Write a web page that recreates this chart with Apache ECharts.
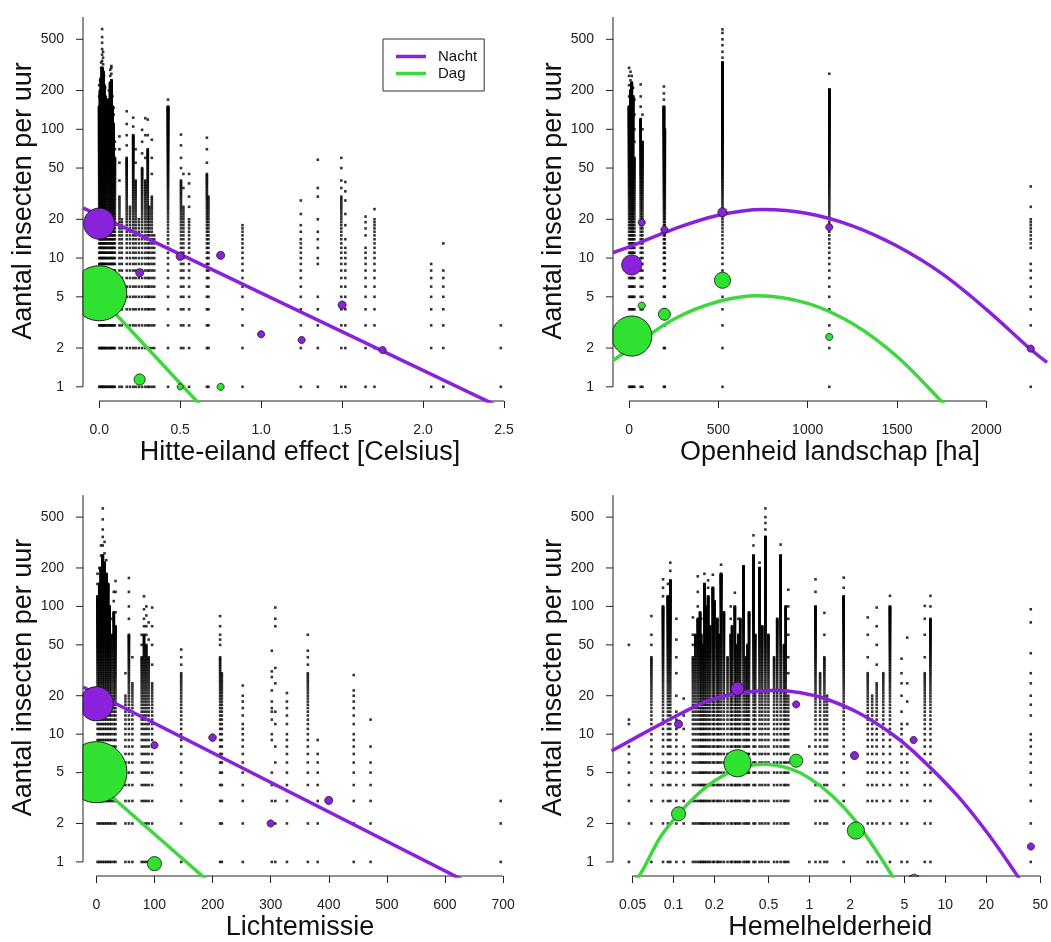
<!DOCTYPE html>
<html>
<head>
<meta charset="utf-8">
<script src="https://cdn.jsdelivr.net/npm/echarts@6/dist/echarts.min.js"></script>
<style>
  html, body { margin: 0; padding: 0; background: #fff; }
  #chart { width: 1051px; height: 942px; }
</style>
</head>
<body>
<div id="chart"></div>
<script>
// ---------- shared ticks ----------
const countTicks = [1, 2, 5, 10, 20, 50, 100, 200, 500];
const heatTicks = [0, 0.5, 1, 1.5, 2, 2.5];
const openTicks = [0, 500, 1000, 1500, 2000];
const lightTicks = [0, 100, 200, 300, 400, 500, 600, 700];
const skyTicks = [0.05, 0.1, 0.2, 0.5, 1, 2, 5, 10, 20, 50];

// ---------- Hitte-eiland effect ----------
// observation columns: every count 1..dense observed, plus scattered higher counts
const heatColX = [0, 0.006, 0.012, 0.018, 0.024, 0.03, 0.037, 0.044, 0.052, 0.06, 0.068, 0.075, 0.082, 0.089, 0.097,
  0.125, 0.14, 0.17, 0.19, 0.21, 0.225, 0.245, 0.265, 0.285, 0.3, 0.31, 0.325, 0.34, 0.425, 0.505, 0.52, 0.555, 0.665, 0.675, 0.885,
  1.245, 1.35, 1.495, 1.52, 1.645, 1.7, 2.05, 2.125, 2.48];
const heatColDense = [150, 200, 250, 300, 280, 220, 180, 160, 140, 170, 230, 240, 150, 110, 60,
  30, 20, 60, 25, 90, 40, 20, 50, 40, 70, 25, 30, 15, 150, 40, 25, 20, 45, 30, 18,
  14, 5, 30, 12, 12, 20, 9, 8, 3];
const heatColExtra = [[180, 220], [240], [300, 330], [340, 380, 420, 470, 520, 600], [320, 360, 400], [260], [210], [], [170], [200], [260, 290], [270, 300, 310], [180], [130, 147], [70, 80],
  [40, 55, 70, 88], [], [75, 90, 110, 138], [], [105, 123], [55, 70], [], [65, 80, 99], [60, 90, 122], [90, 119], [], [45, 60, 83], [], [170], [50, 60, 75, 91], [35, 45], [25, 30, 38, 45], [55, 70, 86], [], [],
  [16, 18, 22, 28], [9, 10, 12, 14, 16, 20, 30, 35, 58], [35, 40, 50, 60], [14, 18, 22, 28, 33, 39], [15, 17, 19, 21], [24], [], [13], []];
const heatNightX = [0, 0.25, 0.5, 0.75, 1.0, 1.25, 1.5, 1.75];
const heatNightY = [18.5, 7.7, 10.3, 10.5, 2.56, 2.31, 4.32, 1.93];
const heatNightN = [19.6, 1.3, 1.3, 1.3, 1, 1, 1.3, 1];
const heatDayX = [0, 0.25, 0.5, 0.75];
const heatDayY = [5.33, 1.14, 1.0, 1.0];
const heatDayN = [61.7, 2.5, 0.73, 1];
const heatNightFitX = [-0.1, 2.6];
const heatNightFitY = [24.5, 0.585];
const heatDayFitX = [-0.1, 0.7];
const heatDayFitY = [6.9, 0.57];

// ---------- Openheid landschap ----------
const openColX = [0, 8, 15, 22, 30, 65, 75, 195, 200, 523, 1121, 2249];
const openColDense = [150, 200, 230, 180, 60, 120, 80, 150, 100, 330, 204, 9];
const openColExtra = [[180, 220, 260, 300], [240, 280], [260], [210], [80, 100, 130, 170], [150, 180, 223], [100, 130], [170, 190, 215], [],
  [360, 400, 450, 500, 560, 597], [270], [12, 13, 14, 15, 16, 17, 18, 19, 20, 25, 36]];
const openNightX = [15, 71, 198, 523, 1121, 2249];
const openNightY = [8.85, 18.9, 16.6, 22.7, 17.4, 1.98];
const openNightN = [8.2, 1, 1, 1.65, 1, 1];
const openDayX = [15, 71, 198, 523, 1121];
const openDayY = [2.48, 4.27, 3.66, 6.72, 2.44];
const openDayN = [32.7, 1, 2.9, 5.2, 1];
const openNightFitX = [-90, 0, 250, 500, 750, 1000, 1250, 1500, 1750, 2000, 2250, 2340];
const openNightFitY = [11.0, 12.2, 16.8, 21.5, 23.8, 22.2, 17.8, 12.4, 7.6, 4.0, 1.95, 1.55];
const openDayFitX = [-90, 0, 250, 500, 725, 1000, 1250, 1500, 1750, 1850];
const openDayFitY = [1.6, 1.95, 3.35, 4.6, 5.1, 4.45, 3.1, 1.72, 0.77, 0.55];

// ---------- Lichtemissie ----------
const lightColX = [2, 5, 8, 11, 14, 17, 20, 23, 26, 30, 33, 50, 56, 62, 78, 82, 86, 90, 96,
  146, 213, 216, 252, 302, 308, 328, 364, 381, 443, 472, 696];
const lightColDense = [120, 150, 200, 250, 220, 180, 150, 100, 60, 90, 70, 20, 60, 25, 40, 60, 50, 40, 25,
  30, 40, 30, 12, 5, 4, 10, 30, 7, 10, 6, 3];
const lightColExtra = [[150, 180], [200], [250, 300], [300, 350, 400, 480, 585], [260, 320], [230], [], [], [80], [110, 130], [90, 130, 158], [30], [80, 100, 130, 167], [40],
  [50, 60], [70, 80, 95, 120], [60, 70, 85, 100], [55, 75], [35, 50, 70, 98],
  [35, 40, 46], [50, 55, 60, 70, 84], [], [14, 16, 18, 20, 24], [9, 10, 13, 15, 16, 18, 22, 28, 31, 45], [6, 8, 12, 15, 25, 33, 70, 80, 98],
  [12, 14, 16, 18, 21], [35, 40, 45, 60], [9], [12, 14, 16, 18, 20, 22, 29], [8, 13], []];
const lightNightX = [0, 100, 200, 300, 400];
const lightNightY = [17.3, 8.2, 9.4, 2.0, 3.03];
const lightNightN = [23.6, 1, 1.15, 1, 1.3];
const lightDayX = [0, 100];
const lightDayY = [5.04, 0.97];
const lightDayN = [75.9, 4];
const lightNightFitX = [-23, 724];
const lightNightFitY = [23.4, 0.44];
const lightDayFitX = [-23, 200];
const lightDayFitY = [5.1, 0.66];

// ---------- Hemelhelderheid ----------
const skyColX = [0.047, 0.0688, 0.0838, 0.091, 0.0948, 0.105, 0.119, 0.139, 0.145, 0.151, 0.157, 0.16, 0.165, 0.169, 0.174, 0.18, 0.186, 0.195,
  0.2, 0.21, 0.215, 0.224, 0.235, 0.25, 0.264, 0.27, 0.283, 0.29, 0.3, 0.31, 0.328, 0.34, 0.35, 0.36, 0.388, 0.4, 0.43, 0.45, 0.475,
  0.5, 0.55, 0.58, 0.615, 0.65, 0.67, 0.7, 1.0, 1.11, 1.2, 1.29, 1.35,
  1.79, 2.69, 2.9, 3.13, 3.5, 3.92, 4.77, 5.25, 7.07, 7.78, 42.6];
const skyColDense = [8, 40, 100, 120, 160, 15, 8, 40, 60, 80, 90, 60, 50, 150, 100, 120, 70, 140,
  110, 80, 60, 180, 90, 40, 60, 70, 100, 50, 60, 80, 206, 40, 50, 90, 250, 60, 200, 70, 350,
  60, 40, 80, 250, 50, 100, 20, 1, 100, 30, 40, 20,
  120, 30, 20, 25, 30, 100, 12, 8, 30, 80, 10];
const skyColExtra = [[12, 13, 50], [50, 60, 84], [120, 140, 163], [150], [190, 220], [20, 30, 40, 55, 80], [11, 14, 19], [50, 60, 82], [], [100, 130, 172], [], [80], [], [180], [], [140, 160], [], [177],
  [], [], [], [212], [], [], [80, 100], [], [128], [], [80], [], [], [], [], [], [300, 360], [], [220], [], [400, 450, 500, 585],
  [], [], [], [305], [], [], [30, 40, 60, 80, 100, 135], [8], [130, 163], [], [60, 89], [],
  [140, 168], [40, 60, 82], [], [35, 50, 70, 98], [], [121], [15, 20, 25, 30, 39], [12, 18, 25, 57], [40, 60, 80, 101], [100, 121], [14, 17, 20, 25, 30, 43, 75, 95]];
const skyNightX = [0.109, 0.296, 0.80, 2.15, 5.85, 42.7];
const skyNightY = [12.0, 22.7, 17.1, 6.8, 9.0, 1.32];
const skyNightN = [1.3, 3.45, 1, 1.3, 1, 1];
const skyDayX = [0.109, 0.296, 0.80, 2.2, 5.9];
const skyDayY = [2.38, 5.92, 6.2, 1.76, 0.733];
const skyDayN = [4, 14.9, 3.45, 5.9, 2];
const skyNightFitX = [0.035, 0.077, 0.109, 0.179, 0.296, 0.581, 0.9, 1.28, 2.24, 3.92, 5.85, 12.1, 21.1, 33.1, 40];
const skyNightFitY = [7.39, 11.7, 14.2, 18.2, 20.9, 22.1, 20.9, 19.1, 14.9, 10.3, 7.3, 3.36, 1.61, 0.81, 0.6];
const skyDayFitX = [0.05, 0.0566, 0.08, 0.11, 0.15, 0.2, 0.3, 0.465, 0.7, 1.0, 1.5, 2.2, 3.0, 4.04, 4.4];
const skyDayFitY = [0.70, 0.79, 1.56, 2.4, 3.37, 4.3, 5.37, 5.82, 5.42, 4.53, 3.24, 2.08, 1.29, 0.79, 0.67];

// ---------- styling ----------
const NIGHT = '#8a22dc';
const DAY = '#2fe22f';
const DAY_LINE = '#3fd63f';
const INK = '#222';
const FONT = '"Liberation Sans", Arial, Helvetica, sans-serif';
const Y_RANGE = [0.776, 745];

const panels = [
  { grid: { left: 83, top: 17, width: 434, height: 384 }, xType: 'value', xRange: [-0.1, 2.58],
    xTicks: heatTicks, fmt: v => v.toFixed(1), xName: 'Hitte-eiland effect [Celsius]',
    cols: [heatColX, heatColDense, heatColExtra],
    night: [heatNightX, heatNightY, heatNightN], day: [heatDayX, heatDayY, heatDayN],
    nightFit: [heatNightFitX, heatNightFitY], dayFit: [heatDayFitX, heatDayFitY], smooth: false },
  { grid: { left: 613, top: 17, width: 434, height: 384 }, xType: 'value', xRange: [-90, 2340],
    xTicks: openTicks, fmt: v => String(v), xName: 'Openheid landschap [ha]',
    cols: [openColX, openColDense, openColExtra],
    night: [openNightX, openNightY, openNightN], day: [openDayX, openDayY, openDayN],
    nightFit: [openNightFitX, openNightFitY], dayFit: [openDayFitX, openDayFitY], smooth: 0.35 },
  { grid: { left: 83, top: 495, width: 434, height: 383 }, xType: 'value', xRange: [-23, 724],
    xTicks: lightTicks, fmt: v => String(v), xName: 'Lichtemissie',
    cols: [lightColX, lightColDense, lightColExtra],
    night: [lightNightX, lightNightY, lightNightN], day: [lightDayX, lightDayY, lightDayN],
    nightFit: [lightNightFitX, lightNightFitY], dayFit: [lightDayFitX, lightDayFitY], smooth: false },
  { grid: { left: 613, top: 495, width: 437, height: 383 }, xType: 'log', xRange: [0.0359, 56.5],
    xTicks: skyTicks, fmt: v => String(v), xName: 'Hemelhelderheid',
    cols: [skyColX, skyColDense, skyColExtra],
    night: [skyNightX, skyNightY, skyNightN], day: [skyDayX, skyDayY, skyDayN],
    nightFit: [skyNightFitX, skyNightFitY], dayFit: [skyDayFitX, skyDayFitY], smooth: 0.35 }
];

function columnPoints(xs, dense, extra) {
  const pts = [];
  xs.forEach((x, i) => {
    for (let v = 1; v <= dense[i]; v++) pts.push([x, v]);
    extra[i].forEach(v => pts.push([x, v]));
  });
  return pts;
}
const zip = (xs, ys) => xs.map((x, i) => [x, ys[i]]);
const triples = (xs, ys, ns) => xs.map((x, i) => [x, ys[i], ns[i]]);

// group means as circles, area proportional to the number of observations.
// The outline is traced as a polygon and cut off at the edges of the plotting region.
function meanCircles(i, name, data, fill) {
  return {
    name: name, type: 'custom', xAxisIndex: i, yAxisIndex: i, z: 4,
    encode: { x: 0, y: 1 },
    data: data,
    renderItem: (params, api) => {
      const cs = params.coordSys;
      const c = api.coord([api.value(0), api.value(1)]);
      const r = 3.5 * Math.sqrt(api.value(2));
      const x0 = cs.x, x1 = cs.x + cs.width, y0 = cs.y, y1 = cs.y + cs.height;
      const pts = [];
      for (let k = 0; k < 96; k++) {
        const a = (k / 96) * Math.PI * 2;
        pts.push([
          Math.min(x1, Math.max(x0, c[0] + r * Math.cos(a))),
          Math.min(y1, Math.max(y0, c[1] + r * Math.sin(a)))
        ]);
      }
      return {
        type: 'polygon', shape: { points: pts },
        style: { fill: fill, stroke: '#1a1a1a', lineWidth: 1 }
      };
    }
  };
}
// count-axis ticks, pointing outwards from the left edge
function countAxisTicks(i, xLeft) {
  return {
    type: 'custom', xAxisIndex: i, yAxisIndex: i, clip: false, silent: true, z: 1,
    encode: { x: 0, y: 1 },
    data: countTicks.map(v => [xLeft, v]),
    renderItem: (params, api) => {
      const p = api.coord([api.value(0), api.value(1)]);
      return { type: 'line', shape: { x1: p[0] - 7, y1: p[1], x2: p[0], y2: p[1] },
        style: { stroke: INK, lineWidth: 1 } };
    }
  };
}

const grids = [], xAxes = [], yAxes = [], series = [];
panels.forEach((p, i) => {
  grids.push(p.grid);
  xAxes.push({
    gridIndex: i, type: p.xType, logBase: 10, min: p.xRange[0], max: p.xRange[1],
    axisLine: { show: false }, splitLine: { show: false },
    axisTick: { show: true, length: 7, customValues: p.xTicks, lineStyle: { color: INK, width: 1 } },
    axisLabel: { customValues: p.xTicks, formatter: p.fmt, margin: 22, fontSize: 14, color: INK, fontFamily: FONT },
    name: p.xName, nameLocation: 'middle', nameGap: 38,
    nameTextStyle: { fontSize: 27, color: '#111', fontFamily: FONT }
  });
  yAxes.push({
    gridIndex: i, type: 'log', logBase: 10, min: Y_RANGE[0], max: Y_RANGE[1],
    axisLine: { show: false }, splitLine: { show: false }, axisTick: { show: false },
    axisLabel: { customValues: countTicks, formatter: v => String(v), margin: 19, fontSize: 14, color: INK, fontFamily: FONT },
    name: 'Aantal insecten per uur', nameLocation: 'middle', nameGap: 44,
    nameTextStyle: { fontSize: 27, color: '#111', fontFamily: FONT, padding: [0, 0, 0, 16] }
  });
  // observations
  series.push({
    type: 'scatter', xAxisIndex: i, yAxisIndex: i, silent: true,
    symbol: 'rect', symbolSize: 2.6, itemStyle: { color: '#000' },
    data: columnPoints(p.cols[0], p.cols[1], p.cols[2]), z: 2
  });
  // axis lines, R style: spanning the tick range
  series.push({
    type: 'line', xAxisIndex: i, yAxisIndex: i, silent: true, clip: false, symbol: 'none',
    lineStyle: { color: INK, width: 1 },
    data: [[p.xRange[0], countTicks[0]], [p.xRange[0], Y_RANGE[1]]], z: 1
  });
  series.push({
    type: 'line', xAxisIndex: i, yAxisIndex: i, silent: true, clip: false, symbol: 'none',
    lineStyle: { color: INK, width: 1 },
    data: [[p.xTicks[0], Y_RANGE[0]], [p.xTicks[p.xTicks.length - 1], Y_RANGE[0]]], z: 1
  });
  series.push(countAxisTicks(i, p.xRange[0]));
  // fitted curves
  series.push({
    name: 'Nacht', type: 'line', xAxisIndex: i, yAxisIndex: i, symbol: 'none', smooth: p.smooth,
    lineStyle: { color: NIGHT, width: 3.5 }, itemStyle: { color: NIGHT },
    data: zip(p.nightFit[0], p.nightFit[1]), z: 3
  });
  series.push({
    name: 'Dag', type: 'line', xAxisIndex: i, yAxisIndex: i, symbol: 'none', smooth: p.smooth,
    lineStyle: { color: DAY_LINE, width: 3.5 }, itemStyle: { color: DAY_LINE },
    data: zip(p.dayFit[0], p.dayFit[1]), z: 3
  });
  series.push(meanCircles(i, 'Nacht gemiddelde', triples(p.night[0], p.night[1], p.night[2]), NIGHT));
  series.push(meanCircles(i, 'Dag gemiddelde', triples(p.day[0], p.day[1], p.day[2]), DAY));
});

const chart = echarts.init(document.getElementById('chart'), null, { renderer: 'canvas' });
chart.setOption({
  animation: false,
  backgroundColor: '#fff',
  textStyle: { fontFamily: FONT },
  grid: grids,
  xAxis: xAxes,
  yAxis: yAxes,
  legend: {
    data: ['Nacht', 'Dag'], orient: 'vertical', left: 383, top: 39,
    icon: 'rect', itemWidth: 30, itemHeight: 3.5, itemGap: 0,
    padding: [9, 7, 9, 13], borderColor: '#333', borderWidth: 1, backgroundColor: '#fff',
    textStyle: { fontSize: 15, color: '#111', fontFamily: FONT, padding: [0, 0, 0, 7], lineHeight: 17 },
    selectedMode: false
  },
  series: series
});
</script>
</body>
</html>
